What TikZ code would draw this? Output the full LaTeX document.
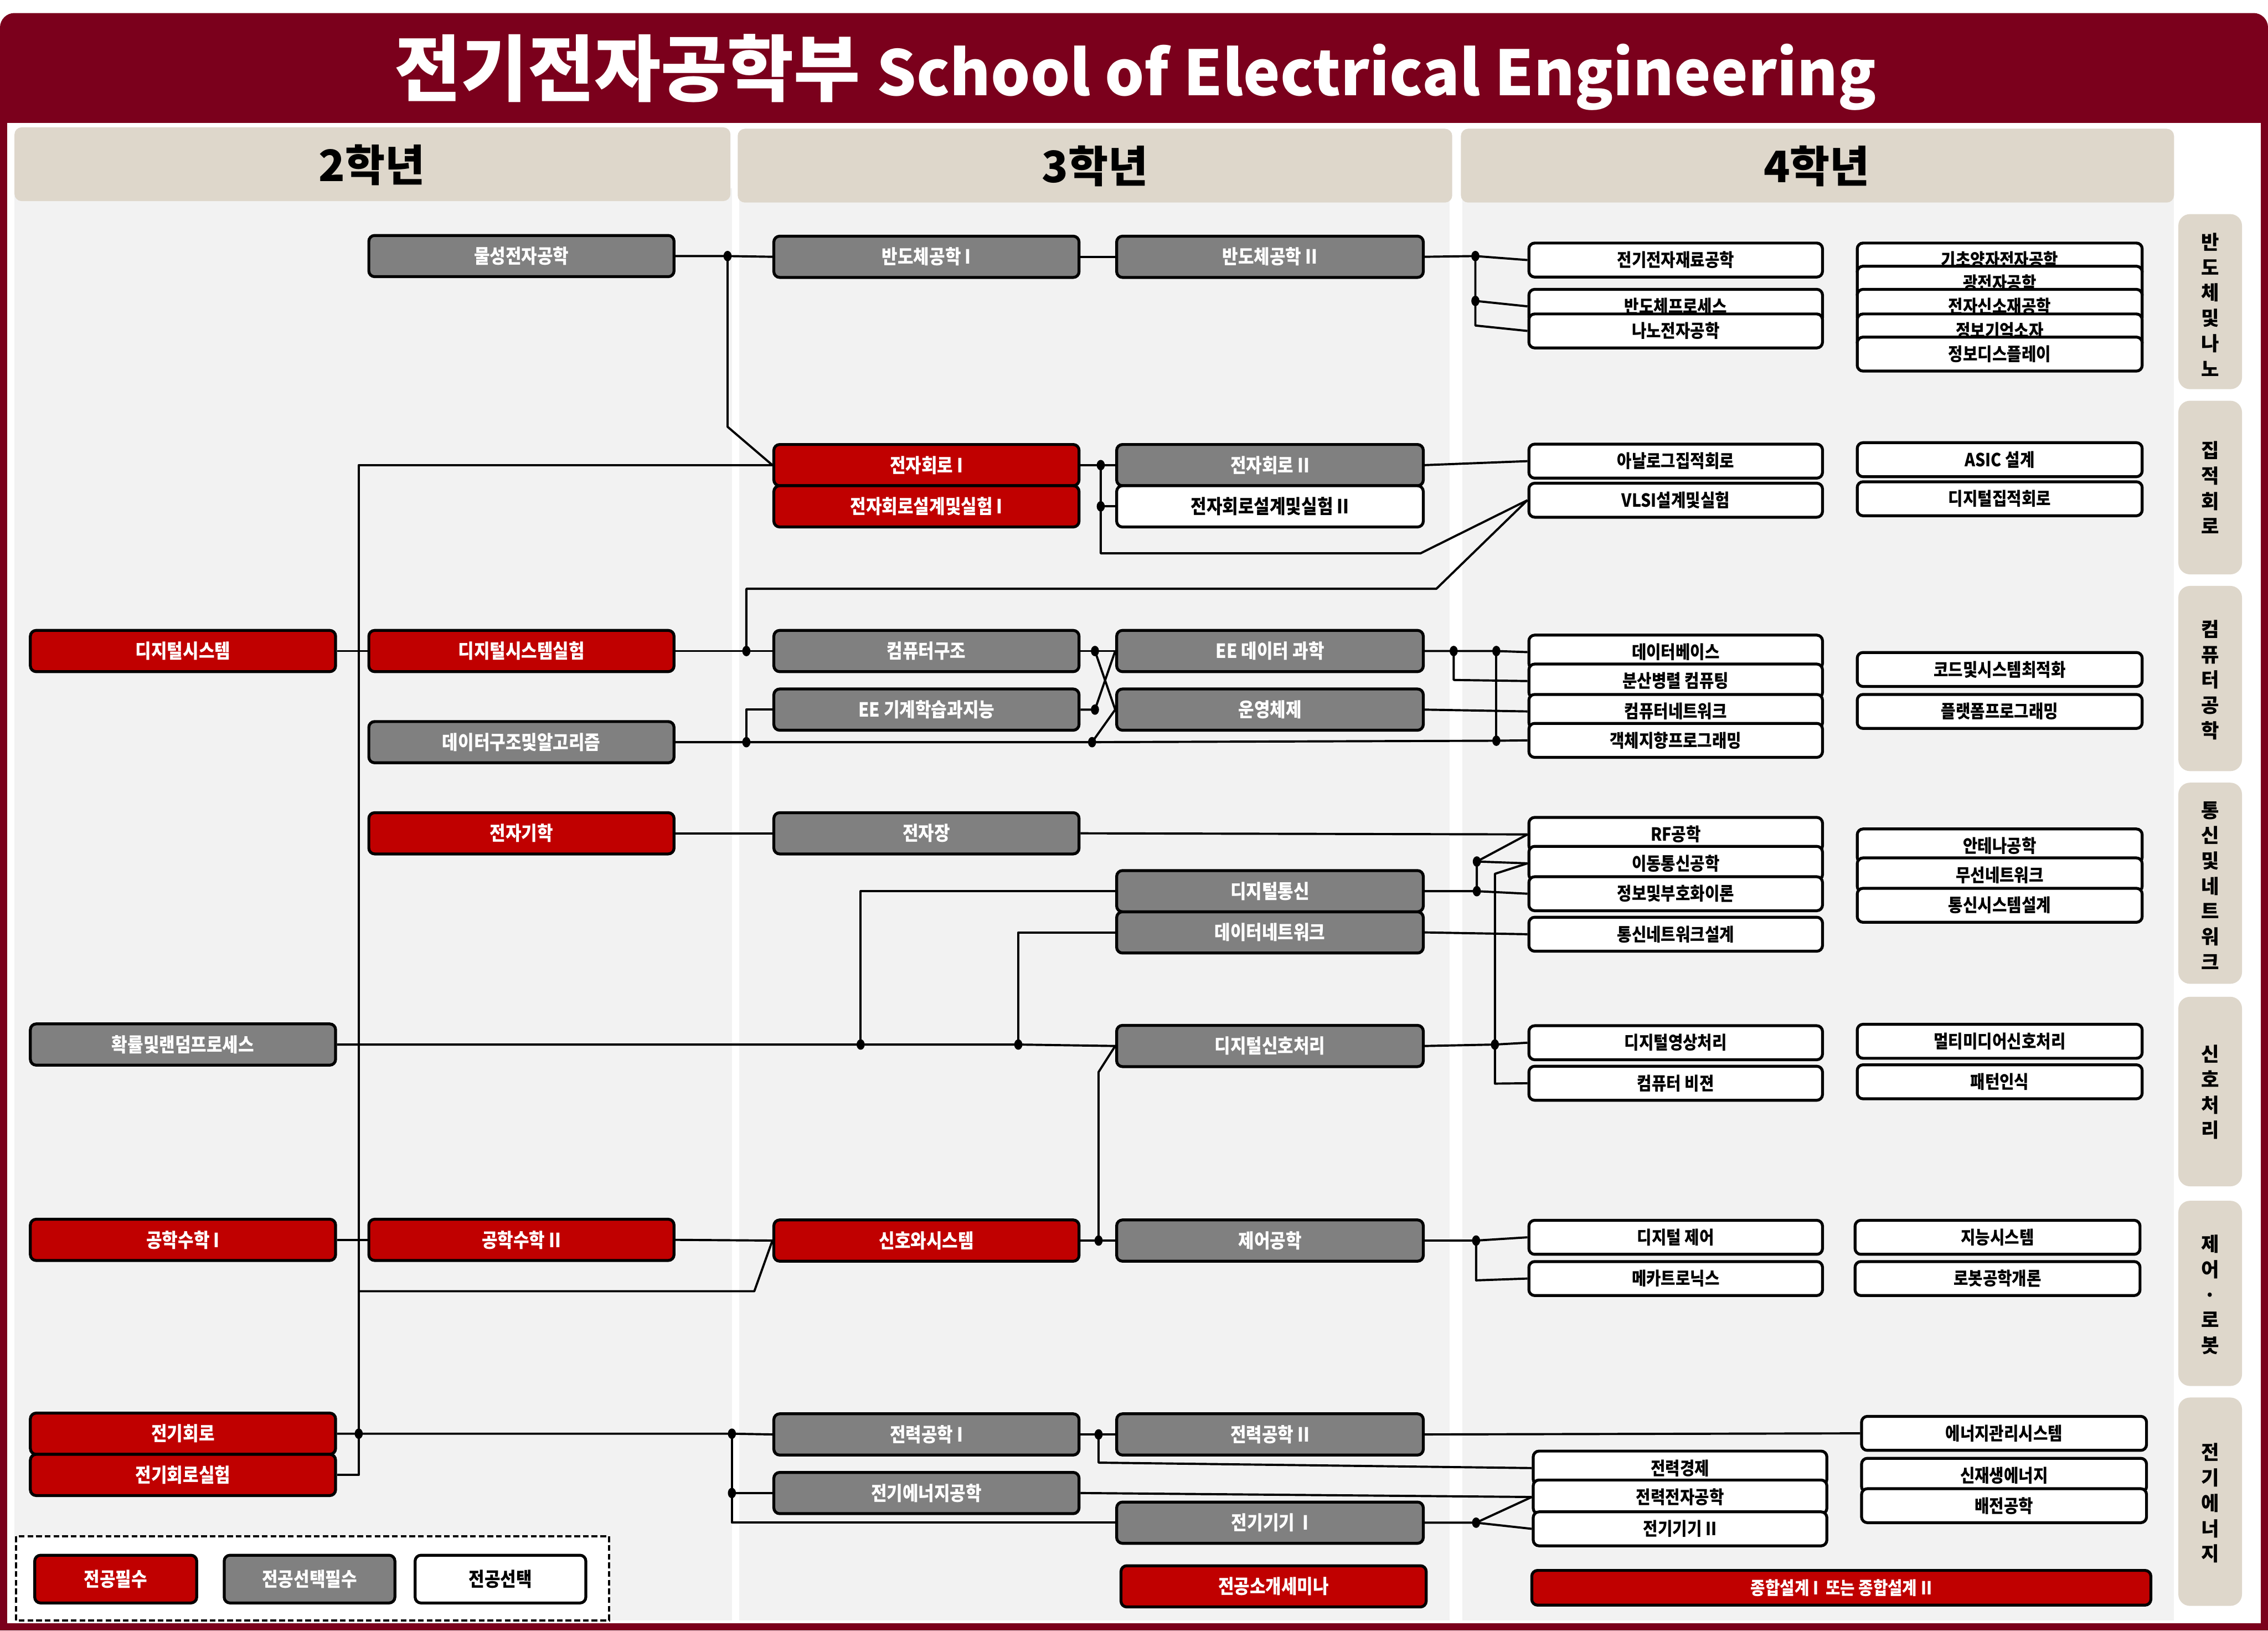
\documentclass[tikz,border=0pt]{standalone}
\usepackage{fontspec}
\setmainfont{Noto Sans CJK KR}
\newfontfamily\kc{Noto Sans CJK KR}[FakeStretch=0.88]
\usetikzlibrary{calc}
\pgfdeclarelayer{bg}
\pgfdeclarelayer{lines}
\pgfsetlayers{bg,lines,main}
\definecolor{dred}{HTML}{7B001C}
\definecolor{bred}{HTML}{C00000}
\definecolor{bgray}{HTML}{808080}
\definecolor{beige}{HTML}{DED7CB}
\definecolor{lgray}{HTML}{F2F2F2}
\begin{document}
\begin{tikzpicture}[x=1pt,y=-1pt,
  box/.style={draw=black, line width=2pt, rounded corners=4pt, inner sep=0pt, minimum height=28.5pt, font=\kc\fontsize{13.5}{15}\selectfont\bfseries},
  rbox/.style={box, fill=bred, text=white},
  gbox/.style={box, fill=bgray, text=white},
  wbox/.style={box, fill=white, text=black},
  wA/.style={minimum width=211pt},
  wD/.style={minimum width=212pt},
  fourbox/.style={draw=black, line width=2pt, rounded corners=4pt, inner sep=0pt, minimum height=23.5pt, minimum width=203pt, fill=white, font=\kc\fontsize{12.5}{14}\selectfont\bfseries},
  fourF/.style={fourbox, minimum width=197pt},
  conn/.style={line width=1.5pt, line join=round},
  sidelab/.style={font=\fontsize{13.5}{17.5}\selectfont\bfseries, align=center},
  hdr/.style={font=\fontsize{30}{34}\selectfont\bfseries}
]
\useasboundingbox (0,0) rectangle (1568,1127);

\begin{pgfonlayer}{bg}
  \fill[dred, rounded corners=10pt] (0,9) rectangle (1568,60);
  \fill[dred] (0,40) rectangle (1568,1127);
  \fill[white] (5,85) rectangle (1563,1122);
  \fill[lgray] (10,130) rectangle (506,1120);
  \fill[lgray] (511,130) rectangle (1002,1120);
  \fill[lgray] (1011,130) rectangle (1503,1120);
  \fill[beige, rounded corners=5pt] (10,88) rectangle (505,139);
  \fill[beige, rounded corners=5pt] (510,89) rectangle (1004,140);
  \fill[beige, rounded corners=5pt] (1010,89) rectangle (1503,140);
  \fill[beige, rounded corners=8pt] (1506,148) rectangle (1550,269);
  \fill[beige, rounded corners=8pt] (1506,277) rectangle (1550,397);
  \fill[beige, rounded corners=8pt] (1506,405) rectangle (1550,533);
  \fill[beige, rounded corners=8pt] (1506,541) rectangle (1550,680);
  \fill[beige, rounded corners=8pt] (1506,689) rectangle (1550,820);
  \fill[beige, rounded corners=8pt] (1506,830) rectangle (1550,958);
  \fill[beige, rounded corners=8pt] (1506,966) rectangle (1550,1110);
  \draw[line width=1.5pt, dash pattern=on 4pt off 2pt, fill=white] (11,1062) rectangle (421,1120);
\end{pgfonlayer}

% title and headers
\node[text=white, font=\fontsize{50}{54}\selectfont\bfseries] (title) at (785,50) {전기전자공학부 {\fontsize{43}{47}\selectfont School of Electrical Engineering}};
\node[hdr] (h2) at (257,114) {2학년};
\node[hdr] (h3) at (757,115) {3학년};
\node[hdr] (h4) at (1256,115) {4학년};

% side labels
\node[sidelab] (s1) at (1528,210.5) {반\\도\\체\\및\\나\\노};
\node[sidelab] (s2) at (1528,337) {집\\적\\회\\로};
\node[sidelab] (s3) at (1528,470) {컴\\퓨\\터\\공\\학};
\node[sidelab] (s4) at (1528,612) {통\\신\\및\\네\\트\\워\\크};
\node[sidelab] (s5) at (1528,755) {신\\호\\처\\리};
\node[sidelab] (s6) at (1528,895) {제\\어\\·\\로\\봇};
\node[sidelab] (s7) at (1528,1039) {전\\기\\에\\너\\지};

% 2nd year
\node[gbox, wA] (mul) at (360.5,177) {물성전자공학};
\node[rbox, wA] (dsys) at (126.5,450) {디지털시스템};
\node[rbox, wA] (dsyslab) at (360.5,450) {디지털시스템실험};
\node[gbox, wA] (dsa) at (360.5,513) {데이터구조및알고리즘};
\node[rbox, wA] (emag) at (360.5,576) {전자기학};
\node[gbox, wA] (prob) at (126.5,722) {확률및랜덤프로세스};
\node[rbox, wA] (math1) at (126.5,857) {공학수학 I};
\node[rbox, wA] (math2) at (360.5,857) {공학수학 II};
\node[rbox, wA] (ckt) at (126.5,991) {전기회로};
\node[rbox, wA] (cktlab) at (126.5,1019.5) {전기회로실험};

% 3rd year
\node[gbox, wA] (semi1) at (640.5,177.5) {반도체공학 I};
\node[gbox, wD] (semi2) at (878,177.5) {반도체공학 II};
\node[rbox, wA] (ec1) at (640.5,321.5) {전자회로 I};
\node[rbox, wA] (ecl1) at (640.5,350) {전자회로설계및실험 I};
\node[gbox, wD] (ec2) at (878,321.5) {전자회로 II};
\node[wbox, wD] (ecl2) at (878,350) {전자회로설계및실험 II};
\node[gbox, wA] (ca) at (640.5,450) {컴퓨터구조};
\node[gbox, wA] (ml) at (640.5,490.5) {EE 기계학습과지능};
\node[gbox, wD] (ds) at (878,450) {EE 데이터 과학};
\node[gbox, wD] (os) at (878,490.5) {운영체제};
\node[gbox, wA] (ef) at (640.5,576) {전자장};
\node[gbox, wD] (dcom) at (878,616) {디지털통신};
\node[gbox, wD] (dnet) at (878,644.5) {데이터네트워크};
\node[gbox, wD] (dsp) at (878,723) {디지털신호처리};
\node[rbox, wA] (ss) at (640.5,857.5) {신호와시스템};
\node[gbox, wD] (ctrl) at (878,857.5) {제어공학};
\node[gbox, wA] (pw1) at (640.5,991.5) {전력공학 I};
\node[gbox, wD] (pw2) at (878,991.5) {전력공학 II};
\node[gbox, wA] (ee) at (640.5,1032) {전기에너지공학};
\node[gbox, wD] (mach1) at (878,1052.5) {전기기기 \ I};
\node[rbox, wA] (sem) at (880.5,1096.5) {전공소개세미나};

% 4th year, column E
\node[fourbox] (mat) at (1158.5,179.75) {전기전자재료공학};
\node[fourbox] (proc) at (1158.5,211.75) {반도체프로세스};
\node[fourbox] (nano) at (1158.5,228.75) {나노전자공학};
\node[fourbox] (aic) at (1158.5,318.75) {아날로그집적회로};
\node[fourbox] (vlsi) at (1158.5,345.75) {VLSI설계및실험};
\node[fourbox] (db) at (1158.5,450.75) {데이터베이스};
\node[fourbox] (dist) at (1158.5,470.75) {분산병렬 컴퓨팅};
\node[fourbox] (cn) at (1158.5,491.75) {컴퓨터네트워크};
\node[fourbox] (oop) at (1158.5,511.75) {객체지향프로그래밍};
\node[fourbox] (rf) at (1158.5,576.75) {RF공학};
\node[fourbox] (mob) at (1158.5,596.75) {이동통신공학};
\node[fourbox] (info) at (1158.5,617.75) {정보및부호화이론};
\node[fourbox] (cnd) at (1158.5,645.75) {통신네트워크설계};
\node[fourbox] (dip) at (1158.5,720.75) {디지털영상처리};
\node[fourbox] (cv) at (1158.5,748.75) {컴퓨터 비젼};
\node[fourbox] (dctl) at (1158.5,855.25) {디지털 제어};
\node[fourbox] (mech) at (1158.5,883.75) {메카트로닉스};
\node[fourbox] (pe) at (1161.5,1014.75) {전력경제};
\node[fourbox] (pel) at (1161.5,1034.75) {전력전자공학};
\node[fourbox] (mach2) at (1161.5,1056.75) {전기기기 II};

% 4th year, column F
\node[fourF] (qe) at (1382.5,179.75) {기초양자전자공학};
\node[fourF] (oe) at (1382.5,195.75) {광전자공학};
\node[fourF] (nm) at (1382.5,211.75) {전자신소재공학};
\node[fourF] (mem) at (1382.5,228.75) {정보기억소자};
\node[fourF] (disp) at (1382.5,244.75) {정보디스플레이};
\node[fourF] (asic) at (1382.5,317.75) {ASIC 설계};
\node[fourF] (dic) at (1382.5,344.75) {디지털집적회로};
\node[fourF] (opt) at (1382.5,462.75) {코드및시스템최적화};
\node[fourF] (plat) at (1382.5,491.75) {플랫폼프로그래밍};
\node[fourF] (ant) at (1382.5,584.75) {안테나공학};
\node[fourF] (wn) at (1382.5,604.75) {무선네트워크};
\node[fourF] (css) at (1382.5,625.75) {통신시스템설계};
\node[fourF] (mm) at (1382.5,719.75) {멀티미디어신호처리};
\node[fourF] (pr) at (1382.5,747.75) {패턴인식};
\node[fourF] (intel) at (1381,855.25) {지능시스템};
\node[fourF] (robot) at (1381,883.75) {로봇공학개론};
\node[fourF] (ems) at (1385.5,990.75) {에너지관리시스템};
\node[fourF] (ren) at (1385.5,1019.75) {신재생에너지};
\node[fourF] (dist2) at (1385.5,1040.75) {배전공학};
\node[fourbox, fill=bred, text=white, minimum width=428pt, minimum height=24pt] (cap) at (1273,1097.5) {종합설계 I \ 또는 종합설계 II};

% legend
\node[rbox, minimum width=112pt, minimum height=33pt] (lg1) at (80,1091.5) {전공필수};
\node[gbox, minimum width=118pt, minimum height=33pt] (lg2) at (214,1091.5) {전공선택필수};
\node[wbox, minimum width=118pt, minimum height=33pt] (lg3) at (346,1091.5) {전공선택};

% connectors
\begin{pgfonlayer}{lines}
\coordinate (j1) at (503,177);
\draw[conn] (mul.east) -- (j1) -- (semi1.west);
\draw[conn] (j1) -- (503,295) -- (ec1.west);
\draw[conn] (semi1.east) -- (semi2.west);
\coordinate (j2) at (1020,177);
\coordinate (j3) at (1020,208);
\draw[conn] (semi2.east) -- (j2) -- (mat.west);
\draw[conn] (j2) -- (1020,225) -- (nano.west);
\draw[conn] (j3) -- (proc.west);
% left vertical bus
\coordinate (j4) at (248,991);
\draw[conn] (ec1.west) -- (248,321.5) -- (248,1019.5) -- (cktlab.east);
% electronic circuits
\coordinate (j5) at (761,321.5);
\coordinate (j6) at (761,350);
\draw[conn] (ec1.east) -- (j5) -- (ec2.west);
\draw[conn] (j5) -- (761,382.5) -- (982,382.5) -- (vlsi.west);
\draw[conn] (j6) -- (ecl2.west);
\draw[conn] (ec2.east) -- (aic.west);
% digital systems
\coordinate (j7) at (516,450);
\draw[conn] (dsys.east) -- (dsyslab.west);
\draw[conn] (dsyslab.east) -- (j7) -- (ca.west);
\draw[conn] (j7) -- (516,407) -- (993,407) -- (vlsi.west);
\coordinate (j8) at (516,513);
\coordinate (j9) at (755,513);
\coordinate (j10) at (1034.5,512);
\draw[conn] (dsa.east) -- (j8) -- (j9) -- (j10) -- (oop.west);
\draw[conn] (j8) -- (516,490.5) -- (ml.west);
\draw[conn] (j9) -- (os.west);
\coordinate (j11) at (757,450);
\coordinate (j12) at (757,490.5);
\draw[conn] (ca.east) -- (j11) -- (ds.west);
\draw[conn] (j11) -- (os.west);
\draw[conn] (ml.east) -- (j12) -- (ds.west);
\coordinate (j13) at (1005,450);
\coordinate (j14) at (1034.5,450);
\draw[conn] (ds.east) -- (j13) -- (j14) -- (db.west);
\draw[conn] (j13) -- (1005,470) -- (dist.west);
\draw[conn] (j14) -- (j10);
\draw[conn] (os.east) -- (cn.west);
% electromagnetics / communications
\draw[conn] (emag.east) -- (ef.west);
\draw[conn] (ef.east) -- (rf.west);
\coordinate (j15) at (1021,616);
\coordinate (j16) at (1021,595.5);
\draw[conn] (dcom.east) -- (j15) -- (info.west);
\draw[conn] (j15) -- (j16) -- (mob.west);
\draw[conn] (j16) -- (rf.west);
\coordinate (j17) at (1033.5,722);
\draw[conn] (mob.west) -- (1033.5,604) -- (1033.5,749) -- (cv.west);
\draw[conn] (dsp.east) -- (j17) -- (dip.west);
\draw[conn] (dnet.east) -- (cnd.west);
\coordinate (j18) at (595,722);
\coordinate (j19) at (704,722);
\draw[conn] (prob.east) -- (j18) -- (j19) -- (dsp.west);
\draw[conn] (j18) -- (595,616) -- (dcom.west);
\draw[conn] (j19) -- (704,644.5) -- (dnet.west);
% math, signals, control
\draw[conn] (math1.east) -- (math2.west);
\draw[conn] (math2.east) -- (ss.west);
\draw[conn] (248,892.5) -- (521.5,892.5) -- (ss.west);
\coordinate (j20) at (759.5,857.5);
\draw[conn] (ss.east) -- (j20) -- (ctrl.west);
\draw[conn] (j20) -- (759.5,741) -- (dsp.west);
\coordinate (j21) at (1020.5,857.5);
\draw[conn] (ctrl.east) -- (j21) -- (dctl.west);
\draw[conn] (j21) -- (1020.5,885) -- (mech.west);
% power
\coordinate (j22) at (506,991);
\coordinate (j23) at (506,1032);
\draw[conn] (ckt.east) -- (j4) -- (j22) -- (pw1.west);
\draw[conn] (j22) -- (506,1052.5) -- (mach1.west);
\draw[conn] (j23) -- (ee.west);
\coordinate (j24) at (759.5,991.5);
\draw[conn] (pw1.east) -- (j24) -- (pw2.west);
\draw[conn] (j24) -- (759.5,1011) -- (pe.west);
\draw[conn] (pw2.east) -- (ems.west);
\draw[conn] (ee.east) -- (pel.west);
\coordinate (j25) at (1020.5,1052.5);
\draw[conn] (mach1.east) -- (j25) -- (mach2.west);
\draw[conn] (j25) -- (pel.west);
% junction dots
\foreach \j in {j1,j2,j3,j4,j5,j6,j7,j8,j9,j10,j11,j12,j13,j14,j15,j16,j17,j18,j19,j20,j21,j22,j23,j24,j25}
  \fill (\j) ellipse (2.8pt and 3.6pt);
\end{pgfonlayer}
\end{tikzpicture}
\end{document}
